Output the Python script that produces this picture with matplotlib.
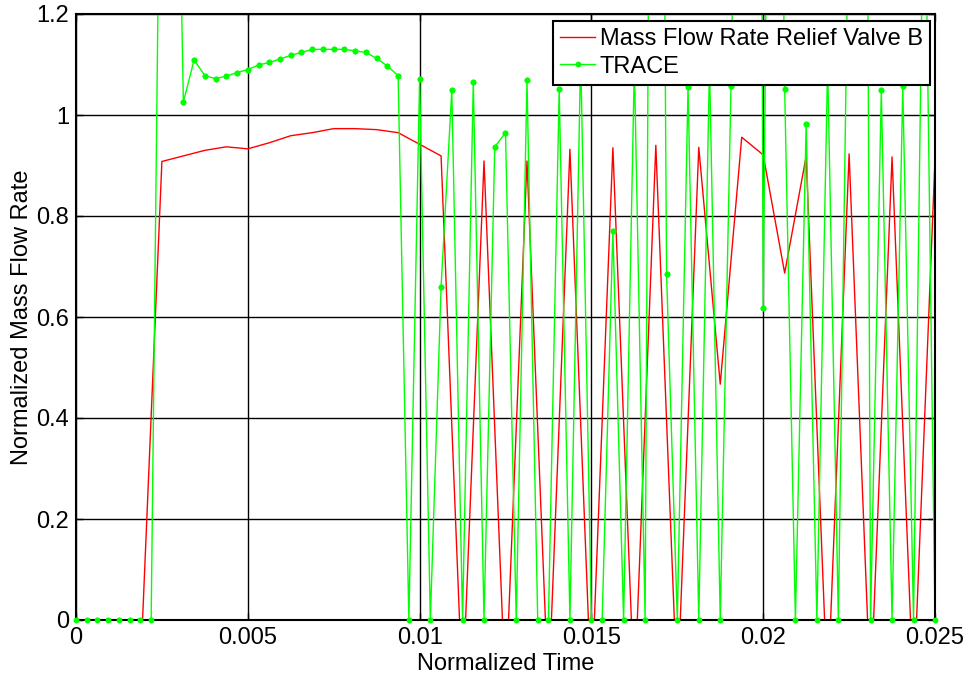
import numpy as np
import matplotlib
matplotlib.use("Agg")
import matplotlib.pyplot as plt

# ---------------- data ----------------
# Relief valve B (red): 41 samples, step 0.000625
relief_b = [0.0, 0.0, 0.0, -0.10, 0.908, 0.919, 0.930, 0.937, 0.933, 0.945,
            0.959, 0.965, 0.973, 0.973, 0.971, 0.965, 0.942, 0.919, -0.15, 0.909,
            -0.15, 0.909, -0.15, 0.932, -0.15, 0.935, -0.15, 0.940, -0.15, 0.936,
            0.467, 0.956, 0.921, 0.687, 0.918, -0.15, 0.923, -0.15, 0.917, -0.15,
            0.912]

# TRACE (green): 81 samples, step 0.0003125
trace = [0.0, 0.0, 0.0, 0.0, 0.0, 0.0, 0.0, 0.0, 1.92, 2.16,
         1.026, 1.109, 1.078, 1.072, 1.077, 1.084, 1.090, 1.099, 1.104, 1.111,
         1.118, 1.124, 1.130, 1.130, 1.130, 1.130, 1.127, 1.124, 1.112, 1.097,
         1.078, 0.0, 1.071, 0.0, 0.660, 1.049, 0.0, 1.066, 0.0, 0.937,
         0.965, 0.0, 1.069, 0.0, 0.0, 1.051, 0.0, 1.12, 0.0, 0.0,
         0.771, 0.0, 1.10, 0.0, 4.0, 0.686, 0.0, 1.056, 0.0, 1.10,
         0.0, 1.057, 2.3, 6.0, 0.617, 3.0, 1.051, 0.0, 0.983, 0.0,
         1.10, 0.0, 1.5, 5.0, 0.0, 1.049, 0.0, 1.057, 0.0, 1.6,
         0.0]

t_relief = np.linspace(0.0, 0.025, len(relief_b))
t_trace = np.linspace(0.0, 0.025, len(trace))

xticks = [0, 0.005, 0.01, 0.015, 0.02, 0.025]
xticklabels = ["0", "0.005", "0.01", "0.015", "0.02", "0.025"]
yticks = [0, 0.2, 0.4, 0.6, 0.8, 1.0, 1.2]
yticklabels = ["0", "0.2", "0.4", "0.6", "0.8", "1", "1.2"]

label_relief = "Mass Flow Rate Relief Valve B"
label_trace = "TRACE"

# ---------------- plot ----------------
plt.rcParams["font.family"] = ["Liberation Sans", "DejaVu Sans"]
fs = 17

fig = plt.figure(figsize=(9.70, 6.78), dpi=100)
ax = fig.add_axes([76 / 970, 58 / 678, 859 / 970, 606 / 678])

green = "#00ff00"
ax.plot(t_relief, relief_b, color="#ff0000", lw=1.0, label=label_relief, zorder=3)
ax.plot(t_trace, trace, color=green, lw=1.0, marker="o", markersize=4.2,
        markeredgewidth=0, label=label_trace, zorder=4)

# markers inside the value range drawn unclipped so those on the axis show fully
tr = np.asarray(trace)
inside = tr <= 1.2
ax.plot(t_trace[inside], tr[inside], ls="none", marker="o", markersize=4.2,
        markeredgewidth=0, color=green, clip_on=False, zorder=7)

ax.set_xlim(0, 0.025)
ax.set_ylim(0, 1.2)
ax.set_xticks(xticks)
ax.set_xticklabels(xticklabels)
ax.set_yticks(yticks)
ax.set_yticklabels(yticklabels)
ax.tick_params(direction="in", length=5, width=1, labelsize=fs,
               top=True, right=True, colors="black", pad=5)
ax.grid(True, color="black", lw=1.0, ls="-")
ax.set_axisbelow(True)
for s in ax.spines.values():
    s.set_linewidth(1.5)
    s.set_color("black")
    s.set_zorder(6)

ax.set_xlabel("Normalized Time", fontsize=fs, labelpad=3)
ax.set_ylabel("Normalized Mass Flow Rate", fontsize=fs, labelpad=2)

leg = ax.legend(loc="upper right", bbox_to_anchor=(0.9942, 0.9889),
                borderaxespad=0, fancybox=False, framealpha=1, edgecolor="black",
                fontsize=fs, handlelength=1.5, handletextpad=0.2,
                borderpad=0.3, labelspacing=0.25)
leg.get_frame().set_linewidth(1.5)
leg.set_zorder(10)

fig.savefig("out.png", dpi=100)
